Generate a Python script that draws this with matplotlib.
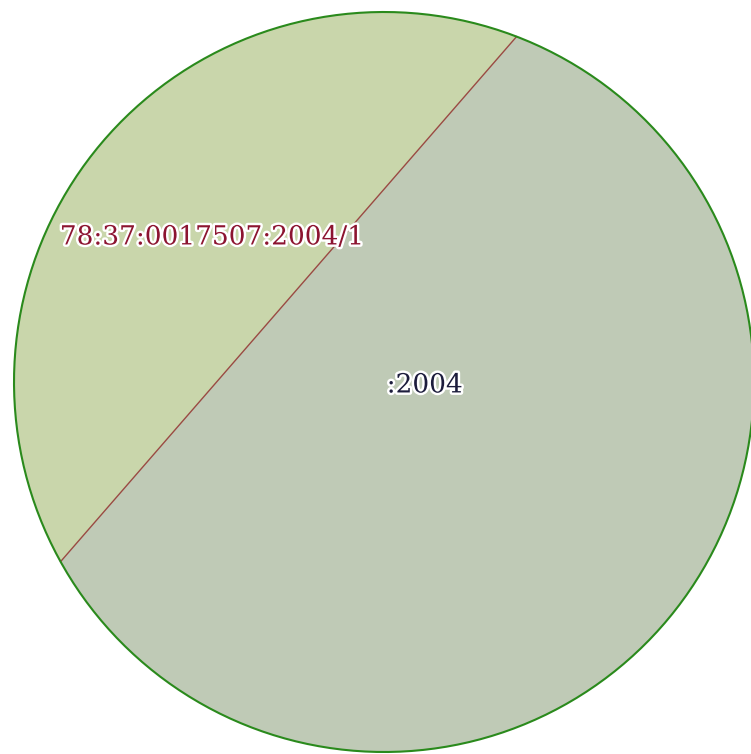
import numpy as np
import matplotlib
matplotlib.use("Agg")
import matplotlib.pyplot as plt
import matplotlib.patheffects as pe

# parcel is a circle split by one straight boundary (angles in degrees, math orientation)
parcel_names = ['78:37:0017507:2004/1', ':2004']
split_angles = [69.0, 209.05]
fill_colors = ['#c9d6ab', '#bfcab6']
text_colors = ['#8c1430', '#1c1c3c']
# label offsets relative to circle centre, in radius units
label_dx = [-0.465, 0.11]
label_dy = [0.392, -0.008]

R = 1.0
cx, cy = 0.0, 0.0


def arc(a0, a1, n=200):
    t = np.radians(np.linspace(a0, a1, n))
    return np.column_stack([cx + R * np.cos(t), cy + R * np.sin(t)])


def main():
    fig = plt.figure(figsize=(7.51, 7.54), dpi=100)
    ax = fig.add_axes([0, 0, 1, 1])
    ax.set_axis_off()

    a0, a1 = split_angles
    parts = [arc(a0, a1), arc(a1, a0 + 360)]
    for pts, col in zip(parts, fill_colors):
        ax.fill(pts[:, 0], pts[:, 1], color=col, lw=0, zorder=1)

    # the dividing line
    ends = arc(a0, a1, 2)
    ax.plot(ends[:, 0], ends[:, 1], color='#9a4a42', lw=1.0, zorder=2)

    # outer boundary
    ring = arc(0, 360, 400)
    ax.plot(ring[:, 0], ring[:, 1], color='#2a8a1c', lw=1.5, zorder=3)

    for name, dx, dy, tc in zip(parcel_names, label_dx, label_dy, text_colors):
        ax.text(cx + dx, cy + dy, name, fontsize=19, family='DejaVu Serif',
                color=tc, ha='center', va='center', zorder=4,
                path_effects=[pe.withStroke(linewidth=3.5, foreground='white')])

    px = 370.0  # pixels per radius
    ax.set_xlim(-384 / px, (751 - 384) / px)
    ax.set_ylim(-(754 - 382) / px, 382 / px)
    fig.savefig('out.png', dpi=100, facecolor='white')


if __name__ == "__main__":
    main()
